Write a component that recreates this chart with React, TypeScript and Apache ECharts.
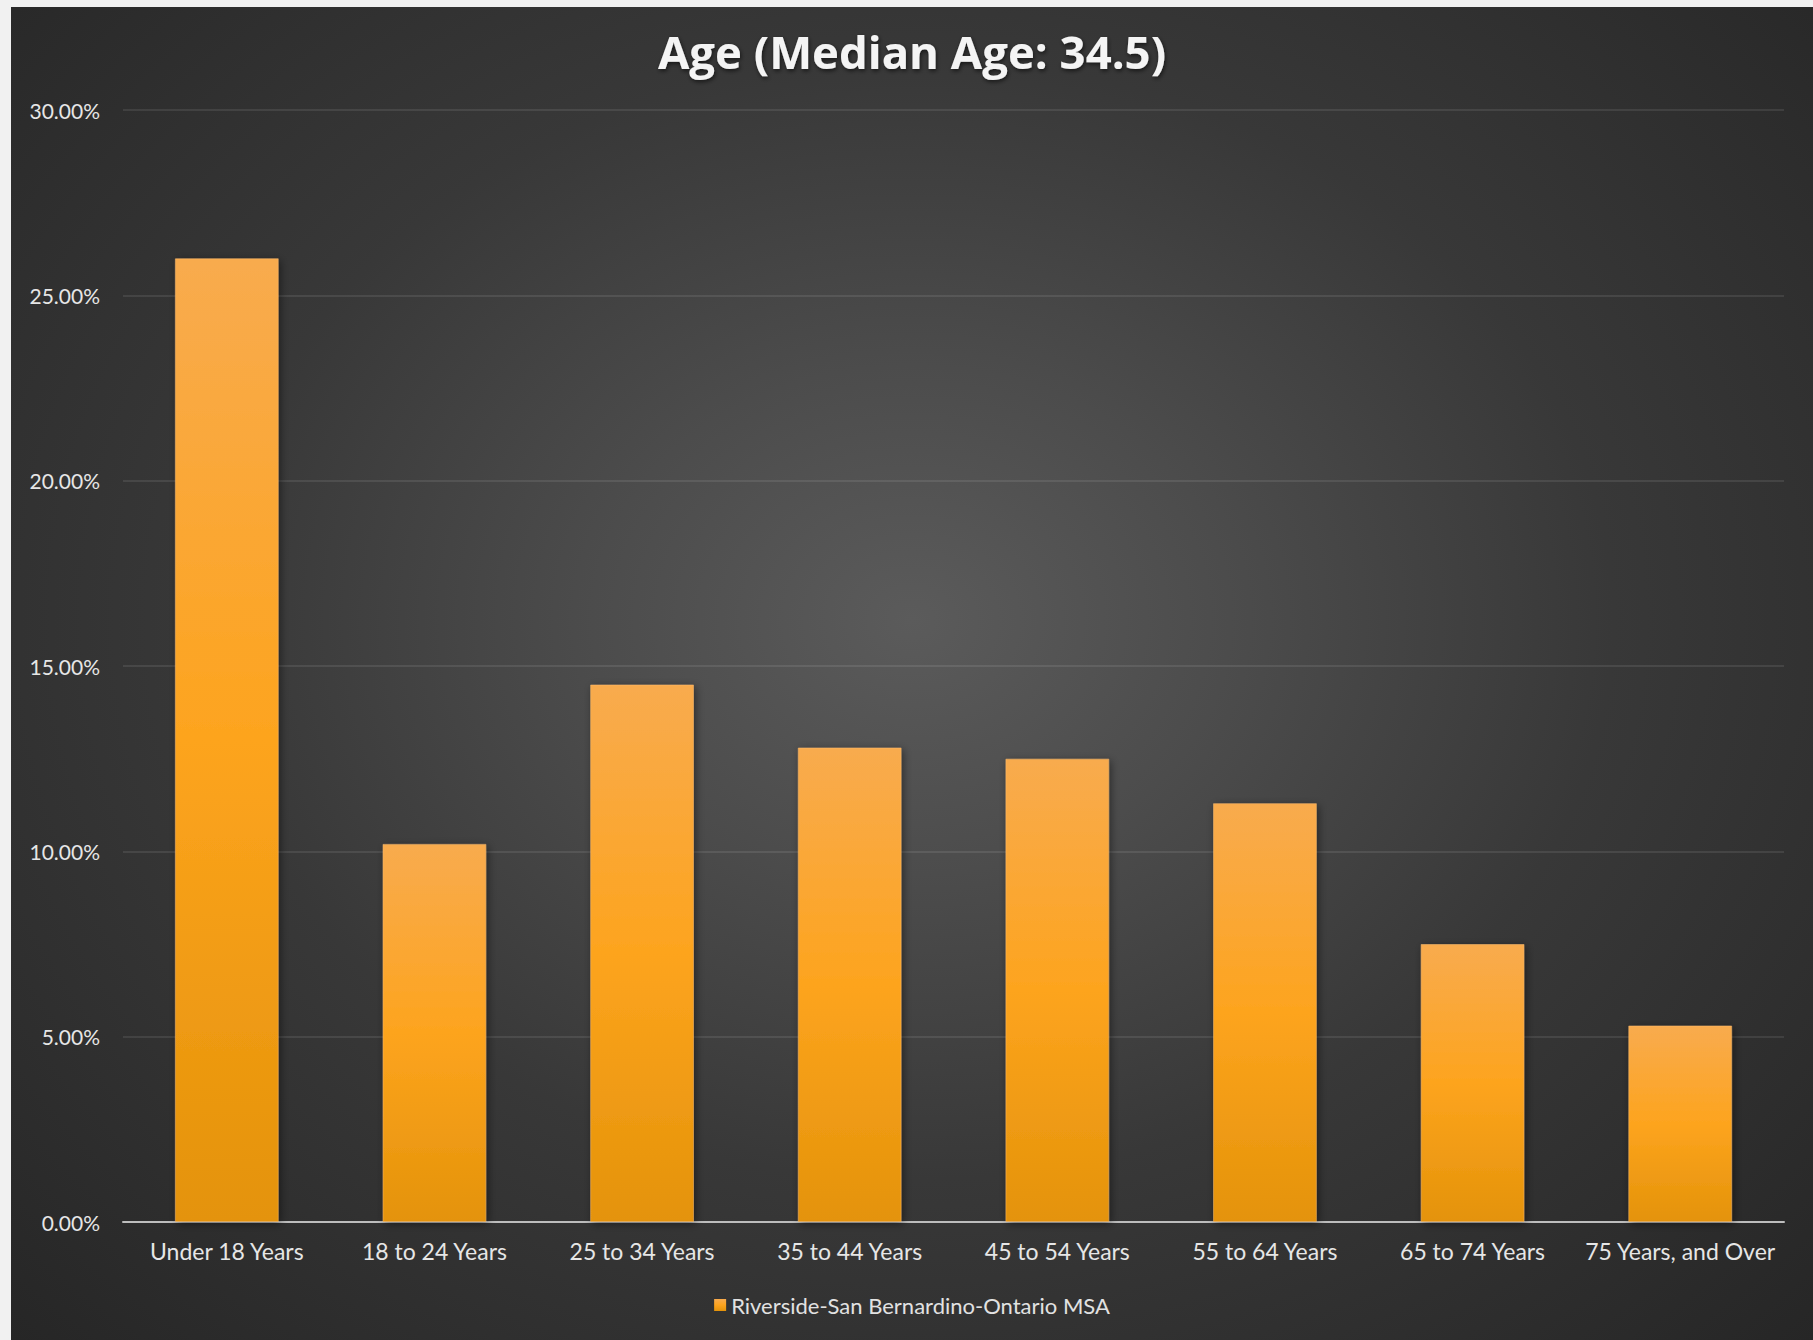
import React, { useEffect, useRef } from "react";
import * as echarts from "echarts";

const titleText = "Age (Median Age: 34.5)";
const categories = [
  "Under 18 Years",
  "18 to 24 Years",
  "25 to 34 Years",
  "35 to 44 Years",
  "45 to 54 Years",
  "55 to 64 Years",
  "65 to 74 Years",
  "75 Years, and Over",
];
const seriesName = "Riverside-San Bernardino-Ontario MSA";
const seriesValues = [26.0, 10.2, 14.5, 12.8, 12.5, 11.3, 7.5, 5.3];
const yMin = 0;
const yMax = 30;
const yInterval = 5;

const FONT = "Lato, 'Open Sans', sans-serif";

export default function App() {
  const ref = useRef<HTMLDivElement>(null);

  useEffect(() => {
    if (!ref.current) return;
    const chart = echarts.init(ref.current, undefined, { renderer: "svg" });
    const barColor = new echarts.graphic.LinearGradient(0, 0, 0, 1, [
      { offset: 0, color: "#f8ab4e" },
      { offset: 0.5, color: "#fda41e" },
      { offset: 1, color: "#e4930a" },
    ]);
    chart.setOption({
      animation: false,
      backgroundColor: "transparent",
      title: {
        text: titleText,
        left: "center",
        top: 16,
        textStyle: {
          color: "#f4f4f4",
          fontFamily: "'Open Sans', Lato, sans-serif",
          fontWeight: "bold",
          fontSize: 45.5,
          textShadowColor: "rgba(0,0,0,0.6)",
          textShadowBlur: 4,
          textShadowOffsetX: 1,
          textShadowOffsetY: 2,
        },
      },
      legend: {
        data: [seriesName],
        top: 1282,
        left: "center",
        icon: "rect",
        itemWidth: 12,
        itemHeight: 12,
        itemGap: 10,
        itemStyle: { borderWidth: 0 },
        textStyle: { color: "#e2e2e2", fontFamily: FONT, fontSize: 22 },
      },
      grid: {
        left: 112,
        right: 29,
        top: 103,
        bottom: 118,
        containLabel: false,
      },
      xAxis: {
        type: "category",
        data: categories,
        axisLine: { show: true, lineStyle: { color: "#bdbdbd", width: 2 } },
        axisTick: { show: false },
        axisLabel: {
          color: "#e6e6e6",
          fontFamily: FONT,
          fontSize: 23,
          margin: 17,
          interval: 0,
        },
        splitLine: { show: false },
      },
      yAxis: {
        type: "value",
        min: yMin,
        max: yMax,
        interval: yInterval,
        axisLine: { show: false },
        axisTick: { show: false },
        axisLabel: {
          color: "#e6e6e6",
          fontFamily: FONT,
          fontSize: 21,
          margin: 23,
          formatter: (v: number) => v.toFixed(2) + "%",
        },
        splitLine: {
          show: true,
          lineStyle: { color: "rgba(255,255,255,0.09)", width: 2 },
        },
      },
      series: [
        {
          name: seriesName,
          type: "bar",
          data: seriesValues,
          barWidth: "50%",
          itemStyle: {
            color: barColor,
            borderColor: "rgba(255,190,110,0.5)",
            borderWidth: 1,
            shadowColor: "rgba(0,0,0,0.45)",
            shadowBlur: 8,
            shadowOffsetX: 2,
            shadowOffsetY: 2,
          },
        },
      ],
    });
    return () => chart.dispose();
  }, []);

  return (
    <div
      style={{
        position: "fixed",
        left: 0,
        top: 0,
        width: 1813,
        height: 1340,
        background: "#f1f1f1",
        overflow: "hidden",
      }}
    >
      <div
        style={{
          position: "absolute",
          left: 11,
          top: 7,
          width: 1802,
          height: 1333,
          background:
            "radial-gradient(ellipse farthest-corner at 50% 46%, #5b5b5b 0%, #4c4c4c 25%, #383838 55%, #262626 100%)",
        }}
      >
        <div ref={ref} style={{ width: 1802, height: 1333 }} />
      </div>
    </div>
  );
}
